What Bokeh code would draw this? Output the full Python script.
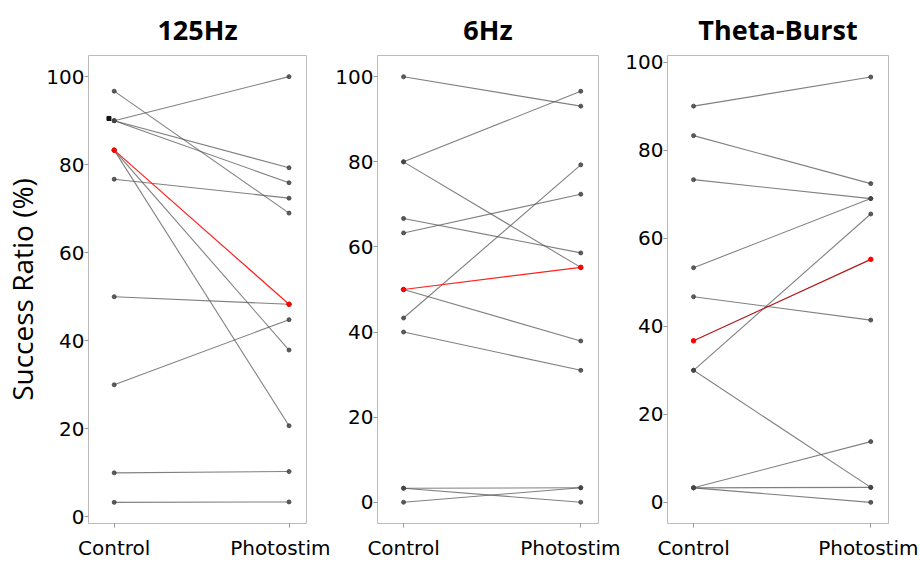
from bokeh.plotting import figure
from bokeh.layouts import row
from bokeh.models import FixedTicker
from bokeh.embed import file_html
from bokeh.resources import INLINE

conditions = ["Control", "Photostim"]
titles = ["125Hz", "6Hz", "Theta-Burst"]

# 125Hz pairs (control -> photostim)
hz125_control = [96.7, 90.0, 90.0, 90.0, 83.3, 83.3, 83.3, 76.7, 50.0, 30.0, 10.0, 3.3]
hz125_photo = [69.0, 100.0, 79.3, 75.9, 48.3, 37.9, 20.7, 72.4, 48.3, 44.8, 10.3, 3.4]
hz125_highlight = 4

# 6Hz pairs
hz6_control = [100.0, 80.0, 80.0, 66.7, 63.3, 50.0, 50.0, 43.3, 40.0, 3.3, 3.3, 0.0]
hz6_photo = [93.1, 96.6, 55.2, 58.6, 72.4, 55.2, 37.9, 79.3, 31.0, 3.4, 0.0, 3.4]
hz6_highlight = 5

# Theta-Burst pairs
tb_control = [90.0, 83.3, 73.3, 53.3, 46.7, 36.7, 30.0, 30.0, 3.3, 3.3, 3.3]
tb_photo = [96.6, 72.4, 69.0, 69.0, 41.4, 55.2, 65.5, 3.4, 13.8, 3.4, 0.0]
tb_highlight = 5

# stray square marker in the 125Hz panel
extra_x = [-0.03]
extra_y = [90.5]

y_ranges = [(-1.5, 104.8), (-5.0, 105.0), (-4.8, 101.5)]
highlight_colors = ["#ff2020", "#ff2020", "#b01818"]
widths = [330, 290, 298]
borders_left = [86, 47, 47]
borders_right = [24, 22, 30]

panels = [
    (hz125_control, hz125_photo, hz125_highlight),
    (hz6_control, hz6_photo, hz6_highlight),
    (tb_control, tb_photo, tb_highlight),
]

figs = []
for i, (ctrl, photo, hi) in enumerate(panels):
    p = figure(width=widths[i], height=562, output_backend="svg", toolbar_location=None,
               x_range=(-0.147, 1.1), y_range=y_ranges[i],
               min_border_left=borders_left[i], min_border_right=borders_right[i],
               min_border_top=54, min_border_bottom=37)
    p.title.text = titles[i]
    p.title.text_font = "Open Sans"
    p.title.text_font_style = "bold"
    p.title.text_font_size = "27px"
    p.title.text_color = "black"
    p.title.align = "center"
    p.title.standoff = 16
    p.grid.visible = False
    p.outline_line_color = "#bbbbbb"
    p.outline_line_width = 1
    p.background_fill_color = "white"
    p.border_fill_color = "white"

    xs = [[0, 1] for _ in ctrl]
    ys = [[c, ph] for c, ph in zip(ctrl, photo)]
    grey_idx = [k for k in range(len(ctrl)) if k != hi]
    p.multi_line([xs[k] for k in grey_idx], [ys[k] for k in grey_idx],
                 line_color="#555555", line_alpha=0.75, line_width=1.1)
    p.scatter([0] * len(grey_idx) + [1] * len(grey_idx),
              [ctrl[k] for k in grey_idx] + [photo[k] for k in grey_idx],
              size=4, color="#444444", alpha=0.85)
    p.line(xs[hi], ys[hi], line_color=highlight_colors[i], line_width=1.2)
    p.scatter([0, 1], [ctrl[hi], photo[hi]], size=4.5, color="#ff0000")
    if i == 0:
        p.scatter(extra_x, extra_y, marker="square", size=4, color="#111111")

    p.xaxis.ticker = FixedTicker(ticks=[0, 1])
    p.xaxis.major_label_overrides = {0: conditions[0], 1: conditions[1]}
    p.yaxis.ticker = FixedTicker(ticks=[0, 20, 40, 60, 80, 100])
    for ax in (p.xaxis, p.yaxis):
        ax.axis_line_color = None
        ax.major_tick_line_color = "#999999"
        ax.major_tick_out = 4
        ax.major_tick_in = 0
        ax.minor_tick_line_color = None
        ax.major_label_text_font = "DejaVu Sans"
        ax.major_label_text_font_size = "20px"
        ax.major_label_text_color = "black"
    p.yaxis.major_label_standoff = 0
    p.xaxis.major_label_standoff = 8
    if i == 0:
        p.yaxis.axis_label = "Success Ratio (%)"
        p.yaxis.axis_label_text_font = "Open Sans"
        p.yaxis.axis_label_text_font_style = "normal"
        p.yaxis.axis_label_text_font_size = "28px"
        p.yaxis.axis_label_standoff = 2
        p.yaxis.axis_label_text_color = "black"
    figs.append(p)

layout = row(*figs)
open("out.html", "w").write(file_html(layout, INLINE))
